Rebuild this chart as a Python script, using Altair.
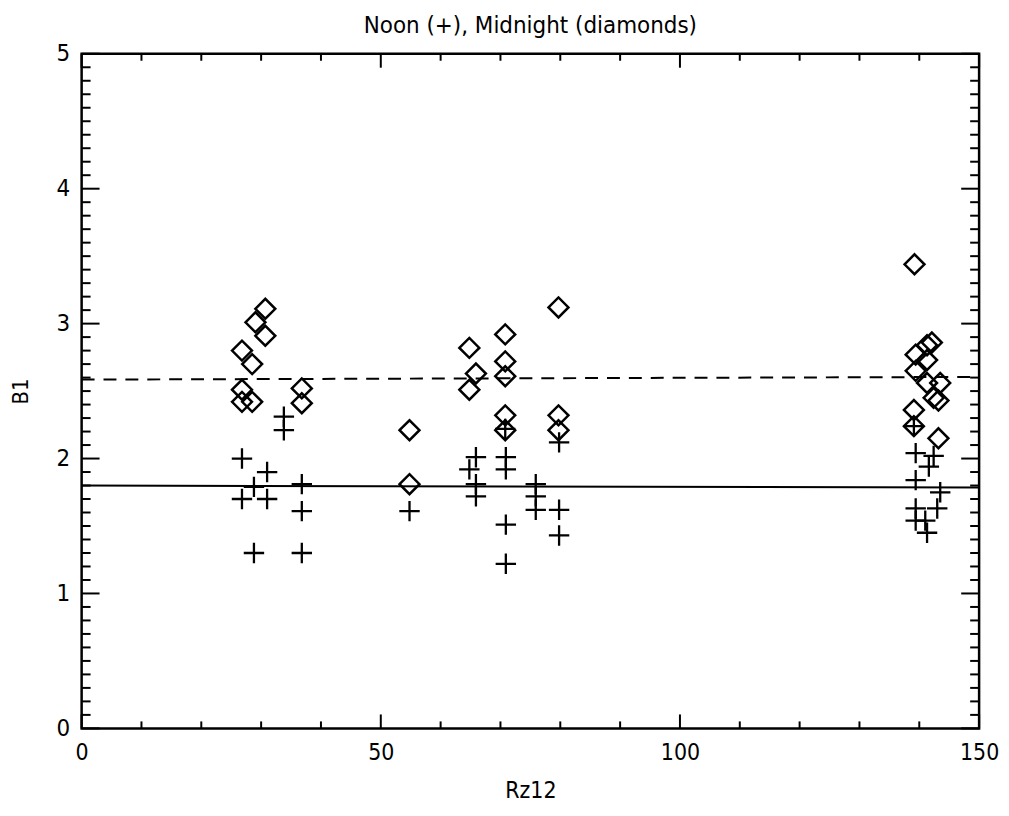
import altair as alt
import pandas as pd

# Noon (+) points
noon_x = [26.8, 31.0, 28.8, 36.8, 26.8, 31.0, 36.8, 28.8, 36.8, 33.8, 33.8,
          54.8,
          64.8, 65.9, 65.9, 65.9, 70.9, 70.9, 70.9, 70.9, 70.8, 75.9, 75.9, 75.9, 79.8, 79.8, 79.8,
          139.1, 139.4, 142.4, 141.6, 139.4, 143.5, 143.0, 139.4, 139.4, 141.0, 141.3]
noon_y = [2.00, 1.90, 1.79, 1.81, 1.70, 1.70, 1.61, 1.30, 1.30, 2.31, 2.21,
          1.61,
          1.92, 2.01, 1.81, 1.72, 2.01, 1.92, 1.51, 1.22, 2.22, 1.81, 1.72, 1.62, 2.12, 1.62, 1.43,
          2.24, 2.04, 2.02, 1.94, 1.84, 1.75, 1.63, 1.63, 1.54, 1.54, 1.45]

# Midnight (diamond) points
mid_x = [30.7, 29.05, 30.7, 26.8, 28.5, 26.8, 26.8, 28.5, 36.8, 36.8,
         54.8, 54.8,
         64.8, 65.9, 64.8, 70.8, 70.8, 70.8, 70.8, 70.8, 79.7, 79.7, 79.7,
         139.2, 142.1, 141.3, 139.4, 141.3, 139.4, 141.3, 143.5, 142.4, 143.2, 139.1, 139.1, 143.2]
mid_y = [3.11, 3.01, 2.91, 2.80, 2.70, 2.51, 2.42, 2.42, 2.52, 2.41,
         2.21, 1.81,
         2.82, 2.63, 2.51, 2.92, 2.72, 2.61, 2.32, 2.21, 3.12, 2.32, 2.21,
         3.44, 2.86, 2.84, 2.77, 2.73, 2.65, 2.56, 2.56, 2.45, 2.43, 2.36, 2.24, 2.15]

# Fit lines (endpoints at x = 0 and 150)
line_x = [0, 150]
noon_line_y = [1.80, 1.785]
mid_line_y = [2.585, 2.605]

# Ticks
x_major = [0, 50, 100, 150]
x_minor = [10, 20, 30, 40, 60, 70, 80, 90, 110, 120, 130, 140]
y_major = [0, 1, 2, 3, 4, 5]
y_minor = [round(i * 0.1, 1) for i in range(51) if i % 10 != 0]

W, H = 902, 678
FONT = "Liberation Sans Narrow, DejaVu Sans Condensed, Liberation Sans, sans-serif"

xs = alt.Scale(domain=[0, 150], nice=False, zero=False)
ys = alt.Scale(domain=[0, 5], nice=False, zero=False)

x_axis = alt.Axis(values=x_major, title="Rz12", ticks=False, domain=False, grid=False,
                  labelFontSize=23, labelFont=FONT, labelColor="black", labelPadding=13,
                  titleFontSize=23, titleFont=FONT, titleFontWeight="normal",
                  titleColor="black", titlePadding=15, labelFlush=False)
y_axis = alt.Axis(values=y_major, title="B1", ticks=False, domain=False, grid=False,
                  labelFontSize=24, labelFont=FONT, labelColor="black", labelPadding=12,
                  titleFontSize=22, titleFont=FONT, titleFontWeight="normal",
                  titleColor="black", titlePadding=24, labelFlush=False)

def X():
    return alt.X("x:Q", scale=xs, axis=x_axis)

def Y():
    return alt.Y("y:Q", scale=ys, axis=y_axis)

noon_df = pd.DataFrame({"x": noon_x, "y": noon_y})
mid_df = pd.DataFrame({"x": mid_x, "y": mid_y})
lines_df = pd.DataFrame({
    "x": line_x + line_x,
    "y": noon_line_y + mid_line_y,
    "series": ["noon", "noon", "mid", "mid"],
})

plus_path = "M-1,0L1,0M0,-1L0,1"

noon = alt.Chart(noon_df).mark_point(shape=plus_path, size=420, filled=False,
                                      stroke="black", strokeWidth=2.3, opacity=1).encode(
    x=X(), y=Y())
mid = alt.Chart(mid_df).mark_point(shape="diamond", size=400, filled=False,
                                    stroke="black", strokeWidth=2.5, opacity=1).encode(
    x=X(), y=Y())

solid = alt.Chart(lines_df[lines_df.series == "noon"]).mark_line(color="black", strokeWidth=2).encode(
    x=X(), y=Y())
dashed = alt.Chart(lines_df[lines_df.series == "mid"]).mark_line(
    color="black", strokeWidth=2, strokeDash=[13, 9]).encode(
    x=X(), y=Y())

def yticks(vals, length):
    d = pd.DataFrame({"y": vals})
    left = alt.Chart(d).mark_rule(color="black", strokeWidth=2).encode(
        y=Y(), x=alt.value(0), x2=alt.value(length))
    right = alt.Chart(d).mark_rule(color="black", strokeWidth=2).encode(
        y=Y(), x=alt.value(W), x2=alt.value(W - length))
    return [left, right]

def xticks(vals, length):
    d = pd.DataFrame({"x": vals})
    bottom = alt.Chart(d).mark_rule(color="black", strokeWidth=2).encode(
        x=X(), y=alt.value(H), y2=alt.value(H - length))
    top = alt.Chart(d).mark_rule(color="black", strokeWidth=2).encode(
        x=X(), y=alt.value(0), y2=alt.value(length))
    return [bottom, top]

layers = [noon, mid, solid, dashed] + yticks(y_major, 18) + yticks(y_minor, 9) \
    + xticks(x_major, 14) + xticks(x_minor, 7)

chart = alt.layer(*layers).properties(
    width=W, height=H,
    title=alt.TitleParams("Noon (+), Midnight (diamonds)", fontSize=24, font=FONT,
                          fontWeight="normal", color="black", anchor="middle", offset=4),
    autosize=alt.AutoSizeParams(type="none"),
    padding={"left": 74, "top": 44, "right": 22, "bottom": 76},
).configure(background="white").configure_view(stroke="black", strokeWidth=2.5)

chart.save("out.html", embed_options={"renderer": "svg", "actions": False})
